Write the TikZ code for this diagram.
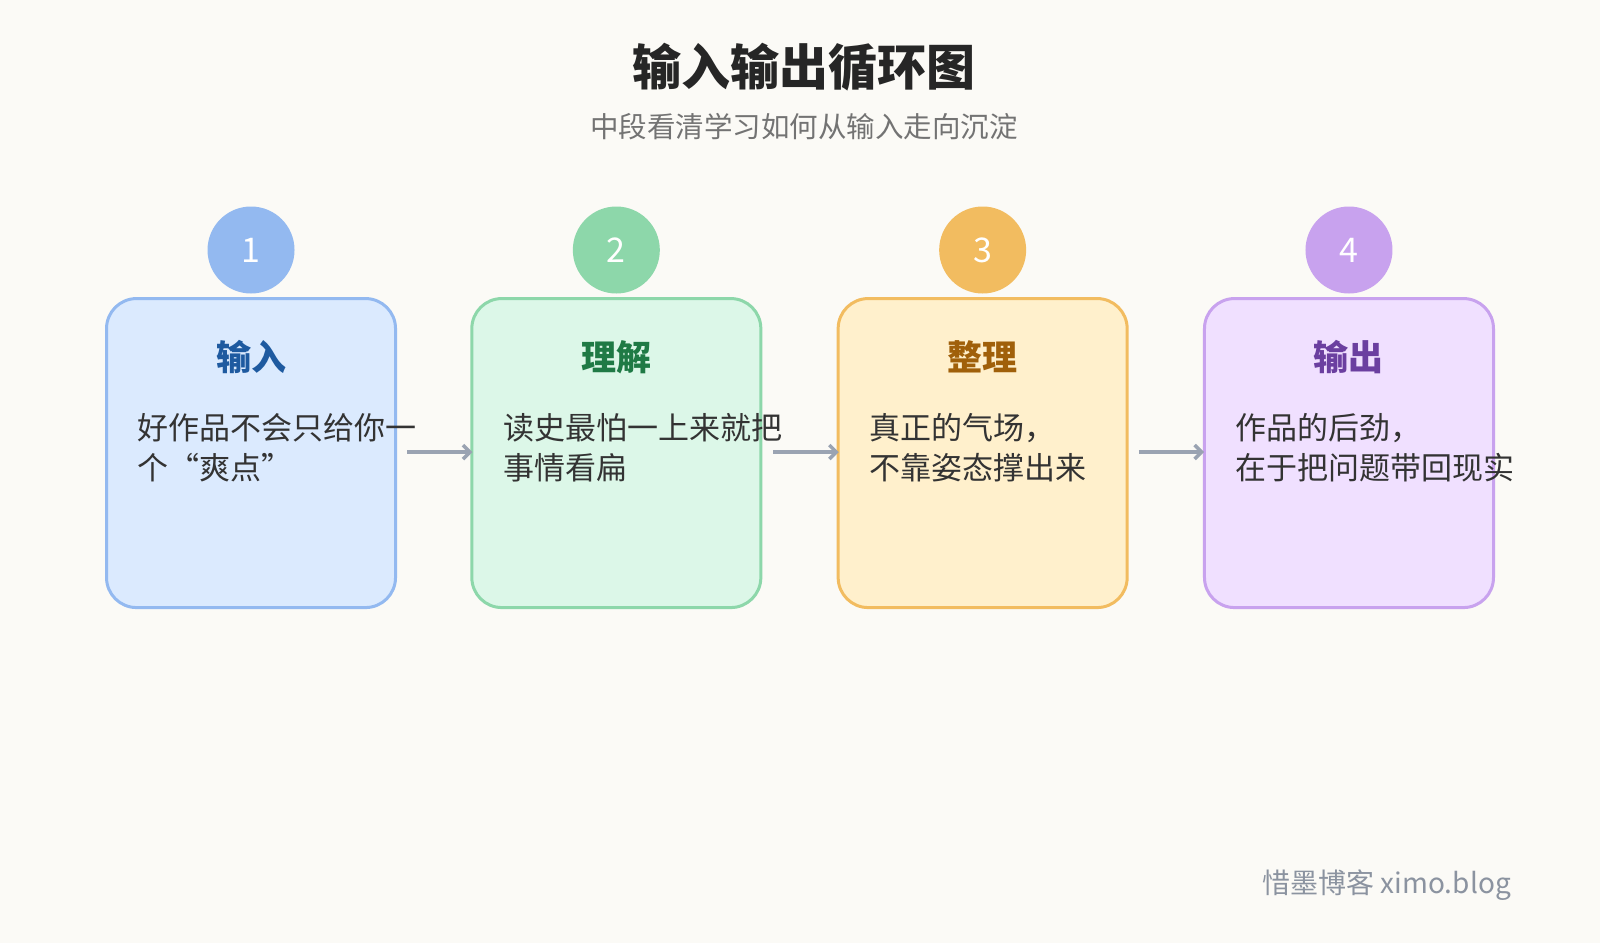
\documentclass[tikz,border=0pt]{standalone}
\usepackage{fontspec}
\setmainfont{Noto Sans CJK SC}
\usetikzlibrary{arrows.meta}
\definecolor{bg}{HTML}{FBFAF6}
\definecolor{fa}{HTML}{DBEAFE}\definecolor{sa}{HTML}{93B9F0}\definecolor{ta}{HTML}{1E5AA0}
\definecolor{fb}{HTML}{DCF7E8}\definecolor{sb}{HTML}{8DD7AA}\definecolor{tb}{HTML}{1F7A45}
\definecolor{fc}{HTML}{FFF0CC}\definecolor{sc}{HTML}{F2BC60}\definecolor{tc}{HTML}{A0600A}
\definecolor{fd}{HTML}{F0E0FF}\definecolor{sd}{HTML}{C8A2EE}\definecolor{td}{HTML}{6B3FA0}
\definecolor{arr}{HTML}{9AA3B2}\definecolor{txt}{HTML}{333333}
\tikzset{
 card/.style={draw=#1, line width=3pt, rounded corners=30pt, minimum width=289pt, minimum height=309pt},
 badge/.style={circle, fill=#1, minimum size=87pt, inner sep=0pt, text=white, font=\fontsize{34}{34}\selectfont},
 ctitle/.style={text=#1, font=\fontsize{35}{38}\selectfont\bfseries},
 body/.style={anchor=north west, align=left, text=txt, font=\fontsize{31}{40}\selectfont, inner sep=0pt},
 flow/.style={draw=arr, line width=3.5pt, -{Straight Barb[length=7pt,width=14pt]}}
}
\begin{document}
\begin{tikzpicture}[x=1.0204pt,y=-1.0204pt]
\fill[bg] (0,0) rectangle (1568,924);
\useasboundingbox (0,0) rectangle (1568,924);
\node[font=\fontsize{49}{52}\selectfont\bfseries, text=black!85] (title) at (788,66) {输入输出循环图};
\node[font=\fontsize{28.5}{32}\selectfont, text=gray!90!black] (sub) at (788,124) {中段看清学习如何从输入走向沉淀};
\foreach \i/\x/\f/\s/\t/\n/\ti/\b in {
 1/246/fa/sa/ta/1/输入/{好作品不会只给你一\\个“爽点”},
 2/604/fb/sb/tb/2/理解/{读史最怕一上来就把\\事情看扁},
 3/963/fc/sc/tc/3/整理/{真正的气场，\\不靠姿态撑出来},
 4/1322/fd/sd/td/4/输出/{作品的后劲，\\在于把问题带回现实}}{
 \node[card=\s, fill=\f] (box\i) at (\x,444) {};
 \node[badge=\s] (c\i) at (\x,245) {\n};
 \node[ctitle=\t] (t\i) at (\x,350) {\ti};
 \node[body] (b\i) at (\x-111,405) {\b};
}
\coordinate (a1s) at (399,443); \coordinate (a1e) at (463,443);
\coordinate (a2s) at (758,443); \coordinate (a2e) at (822,443);
\coordinate (a3s) at (1116,443); \coordinate (a3e) at (1180,443);
\draw[flow] (a1s) -- (a1e);
\draw[flow] (a2s) -- (a2e);
\draw[flow] (a3s) -- (a3e);
\node[anchor=east, font=\fontsize{28}{30}\selectfont, text=arr!90!black] (foot) at (1484,867) {惜墨博客 ximo.blog};
\end{tikzpicture}
\end{document}
